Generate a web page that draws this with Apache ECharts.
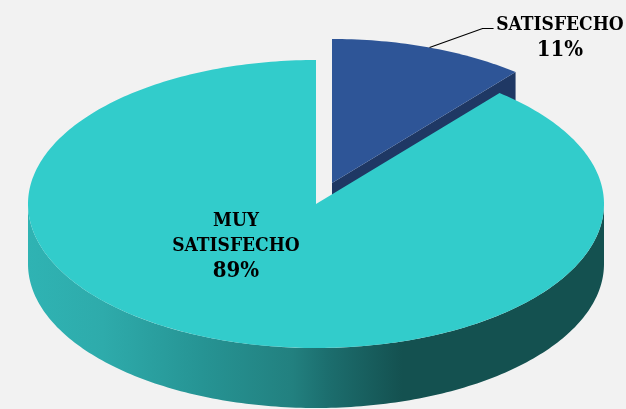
<!DOCTYPE html>
<html>
<head>
<meta charset="utf-8">
<title>Satisfaccion</title>
<script src="https://cdn.jsdelivr.net/npm/echarts@6/dist/echarts.min.js"></script>
<style>
  html, body { margin: 0; padding: 0; background: #f2f2f2; }
  #chart { width: 626px; height: 409px; }
</style>
</head>
<body>
<div id="chart"></div>
<script>
// drawn back slice first so the big one covers its wall
const categories = ["SATISFECHO", "MUY\nSATISFECHO"];
const percents = [11, 89];

const topColors = ["#2e5597", "#32cccb"];
const wallColors = ["#1f3864", "#1f3864"];

// pie geometry on the page
const cx = 316, cy = 204, rx = 288, ry = 144, depth = 60;
const explode = [[16, -21], [0, 0]];
const labelAt = [[560, 38], [236, 246]];

const total = percents.reduce((a, b) => a + b, 0);

function rimPoint(ox, oy, deg, dz) {
  const t = (deg * Math.PI) / 180;
  return [ox + rx * Math.sin(t), oy - ry * Math.cos(t) + dz];
}

function arcPoints(ox, oy, from, to, dz) {
  const pts = [];
  const steps = Math.max(2, Math.ceil(Math.abs(to - from)));
  for (let i = 0; i <= steps; i++) {
    pts.push(rimPoint(ox, oy, from + ((to - from) * i) / steps, dz));
  }
  return pts;
}

function renderSlice(params, api) {
  const i = params.dataIndex;
  let before = 0;
  for (let k = 0; k < i; k++) before += percents[k];
  const start = (before / total) * 360;
  const end = start + (api.value(0) / total) * 360;
  const ox = cx + explode[i][0];
  const oy = cy + explode[i][1];
  const children = [];

  // cut face on the end edge, the big slice hides most of it
  if (end < 180) {
    const corner = rimPoint(ox, oy, end, 0);
    const cornerLow = rimPoint(ox, oy, end, depth);
    children.push({
      type: "polygon",
      shape: { points: [[ox, oy], corner, cornerLow, [ox, oy + depth]] },
      style: { fill: wallColors[i] },
    });
  }

  // front wall, only the part between 90 and 270 deg is visible
  const wallFrom = Math.max(start, 90);
  const wallTo = Math.min(end, 270);
  if (wallTo > wallFrom) {
    const upper = arcPoints(ox, oy, wallFrom, wallTo, 0);
    const lower = arcPoints(ox, oy, wallTo, wallFrom, depth);
    children.push({
      type: "polygon",
      shape: { points: upper.concat(lower) },
      style: {
        fill: new echarts.graphic.LinearGradient(0, 0, 1, 0, [
          { offset: 0, color: "#2fb3b3" },
          { offset: 0.13, color: "#2eabab" },
          { offset: 0.3, color: "#269494" },
          { offset: 0.46, color: "#22807f" },
          { offset: 0.52, color: "#1c6e6e" },
          { offset: 0.65, color: "#145150" },
          { offset: 1, color: "#145150" },
        ]),
      },
    });
  }

  // top face
  children.push({
    type: "polygon",
    shape: { points: [[ox, oy]].concat(arcPoints(ox, oy, start, end, 0)) },
    style: { fill: topColors[i] },
  });

  // leader line for the small slice
  if (end - start < 90) {
    const a = rimPoint(ox, oy, (start + end) / 2, 0);
    children.push({
      type: "polyline",
      shape: { points: [a, [a[0] + 53, a[1] - 19], [a[0] + 64, a[1] - 19]] },
      style: { fill: null, stroke: "#000", lineWidth: 1.2 },
    });
  }

  children.push({
    type: "text",
    style: {
      text: "{n|" + categories[i].split("\n").join("}\n{n|") + "}\n{p|" + api.value(0) + "%}",
      x: labelAt[i][0],
      y: labelAt[i][1],
      align: "center",
      verticalAlign: "middle",
      fill: "#000",
      rich: {
        n: { font: "bold 19px 'DejaVu Serif Condensed', serif", lineHeight: 25, fill: "#000" },
        p: { font: "bold 22px 'DejaVu Serif Condensed', serif", lineHeight: 25, fill: "#000" },
      },
    },
  });

  return { type: "group", children: children };
}

var myChart = echarts.init(document.getElementById("chart"));
var option = {
  backgroundColor: "#f2f2f2",
  animation: false,
  series: [
    {
      type: "custom",
      coordinateSystem: "none",
      silent: true,
      renderItem: renderSlice,
      data: percents.map((p) => [p]),
    },
  ],
};
myChart.setOption(option);
</script>
</body>
</html>
